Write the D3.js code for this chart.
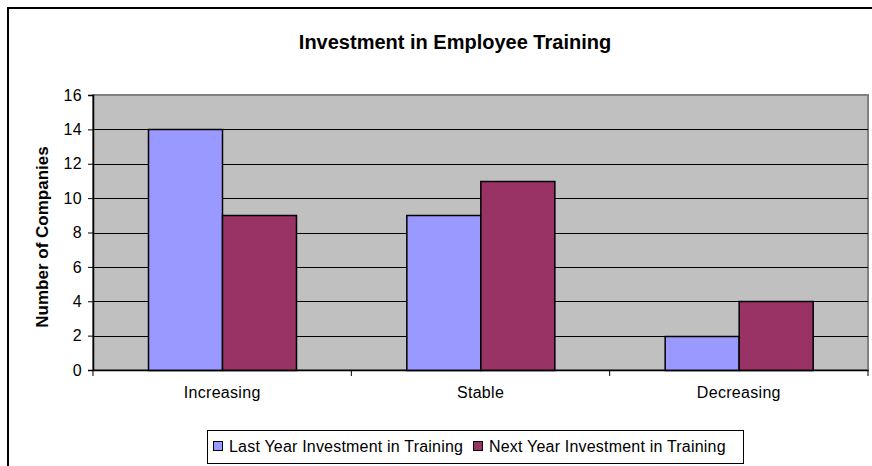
<!DOCTYPE html>
<html>
<head>
<meta charset="utf-8">
<script src="https://cdn.jsdelivr.net/npm/d3@7"></script>
<style>
  body { margin: 0; background: #fff; }
  svg { display: block; font-family: "Liberation Sans", Arial, sans-serif; }
</style>
</head>
<body>
<div id="chart"></div>
<script>
// Data
var categories = ["Increasing", "Stable", "Decreasing"];
var seriesNames = ["Last Year Investment in Training", "Next Year Investment in Training"];
var lastYear = [14, 9, 2];
var nextYear = [9, 11, 4];
var yTicks = [0, 2, 4, 6, 8, 10, 12, 14, 16];

var width = 872, height = 466;
var plot = {left: 93, top: 95, right: 868, bottom: 370};
var colors = ["#9999FF", "#993366"];

var svg = d3.select("#chart").append("svg")
		.attr("width", width)
		.attr("height", height);

// Chart area border (runs off the right and bottom edges)
svg.append("rect")
		.attr("x", 8)
		.attr("y", 8)
		.attr("width", 900)
		.attr("height", 500)
		.style("fill", "#fff")
		.style("stroke", "#000")
		.style("stroke-width", 2);

// Scales
var x0 = d3.scaleBand()
		.domain(categories)
		.range([plot.left, plot.right]);

var x1 = d3.scaleBand()
		.domain(seriesNames)
		.range([0, x0.bandwidth()])
		.paddingInner(0)
		.paddingOuter(0.75);

var y = d3.scaleLinear()
		.domain([0, 16])
		.range([plot.bottom, plot.top]);

// Plot background
svg.append("rect")
		.attr("x", plot.left)
		.attr("y", plot.top)
		.attr("width", plot.right - plot.left)
		.attr("height", plot.bottom - plot.top)
		.style("fill", "#C0C0C0")
		.style("stroke", "#808080")
		.style("stroke-width", 2);

// Gridlines
svg.append("g")
		.selectAll("line")
		.data(yTicks.slice(1, -1))
		.enter().append("line")
		.attr("x1", plot.left)
		.attr("x2", plot.right)
		.attr("y1", function(d) { return Math.round(y(d)) + 0.5; })
		.attr("y2", function(d) { return Math.round(y(d)) + 0.5; })
		.style("stroke", "#000")
		.style("stroke-width", 1);

// Bars
var table = categories.map(function(c, i) {
	return {category: c, values: [
		{name: seriesNames[0], value: lastYear[i]},
		{name: seriesNames[1], value: nextYear[i]}
	]};
});

svg.append("g")
		.selectAll("g")
		.data(table)
		.enter().append("g")
		.attr("transform", function(d) { return "translate(" + x0(d.category) + ",0)"; })
		.selectAll("rect")
		.data(function(d) { return d.values; })
		.enter().append("rect")
		.attr("x", function(d) { return Math.round(x1(d.name)) + 0.5; })
		.attr("y", function(d) { return Math.round(y(d.value)) + 0.5; })
		.attr("width", Math.round(x1.bandwidth()))
		.attr("height", function(d) { return Math.round(y(0)) - Math.round(y(d.value)); })
		.style("fill", function(d, i) { return colors[i]; })
		.style("stroke", "#000")
		.style("stroke-width", 1.5);

// Y axis
var yAxis = svg.append("g")
		.attr("transform", "translate(" + plot.left + ",0)")
		.call(d3.axisLeft(y).tickValues(yTicks).tickSize(5).tickPadding(6));

// X axis
var xAxis = svg.append("g")
		.attr("transform", "translate(0," + plot.bottom + ")")
		.call(d3.axisBottom(x0).tickSize(0).tickPadding(17));

// Category separator ticks
xAxis.selectAll(".sep")
		.data(d3.range(categories.length + 1))
		.enter().append("line")
		.attr("class", "sep")
		.attr("x1", function(i) { return plot.left + i * x0.step(); })
		.attr("x2", function(i) { return plot.left + i * x0.step(); })
		.attr("y1", 0)
		.attr("y2", 6)
		.style("stroke", "#000");

svg.selectAll(".domain").style("stroke", "#000").style("stroke-width", 1.5);
svg.selectAll(".tick line").style("stroke", "#000");
svg.selectAll(".tick text")
		.style("font-family", "'Liberation Sans', Arial, sans-serif")
		.style("font-size", "16px")
		.style("letter-spacing", "0.3px")
		.style("fill", "#000");

// Title
svg.append("text")
		.attr("x", 455)
		.attr("y", 49)
		.attr("text-anchor", "middle")
		.style("font-size", "20px")
		.style("font-weight", "bold")
		.text("Investment in Employee Training");

// Y axis title
svg.append("text")
		.attr("transform", "translate(48,237) rotate(-90)")
		.attr("text-anchor", "middle")
		.style("font-size", "17px")
		.style("font-weight", "bold")
		.text("Number of Companies");

// Legend
var legend = svg.append("g").attr("class", "legend");
legend.append("rect")
		.attr("x", 207.5)
		.attr("y", 430.5)
		.attr("width", 536)
		.attr("height", 33)
		.style("fill", "#fff")
		.style("stroke", "#000");

var legendItem = legend.selectAll(".legend-item")
		.data(seriesNames)
		.enter().append("g")
		.attr("class", "legend-item")
		.attr("transform", function(d, i) { return "translate(" + [213, 473][i] + ",441)"; });

legendItem.append("rect")
		.attr("x", 0.5)
		.attr("y", 0.5)
		.attr("width", 9)
		.attr("height", 9)
		.style("fill", function(d, i) { return colors[i]; })
		.style("stroke", "#000");

legendItem.append("text")
		.attr("x", 16)
		.attr("y", 5)
		.attr("dy", "0.35em")
		.style("font-size", "16px")
		.style("letter-spacing", "0.2px")
		.text(function(d) { return d; });
</script>
</body>
</html>
